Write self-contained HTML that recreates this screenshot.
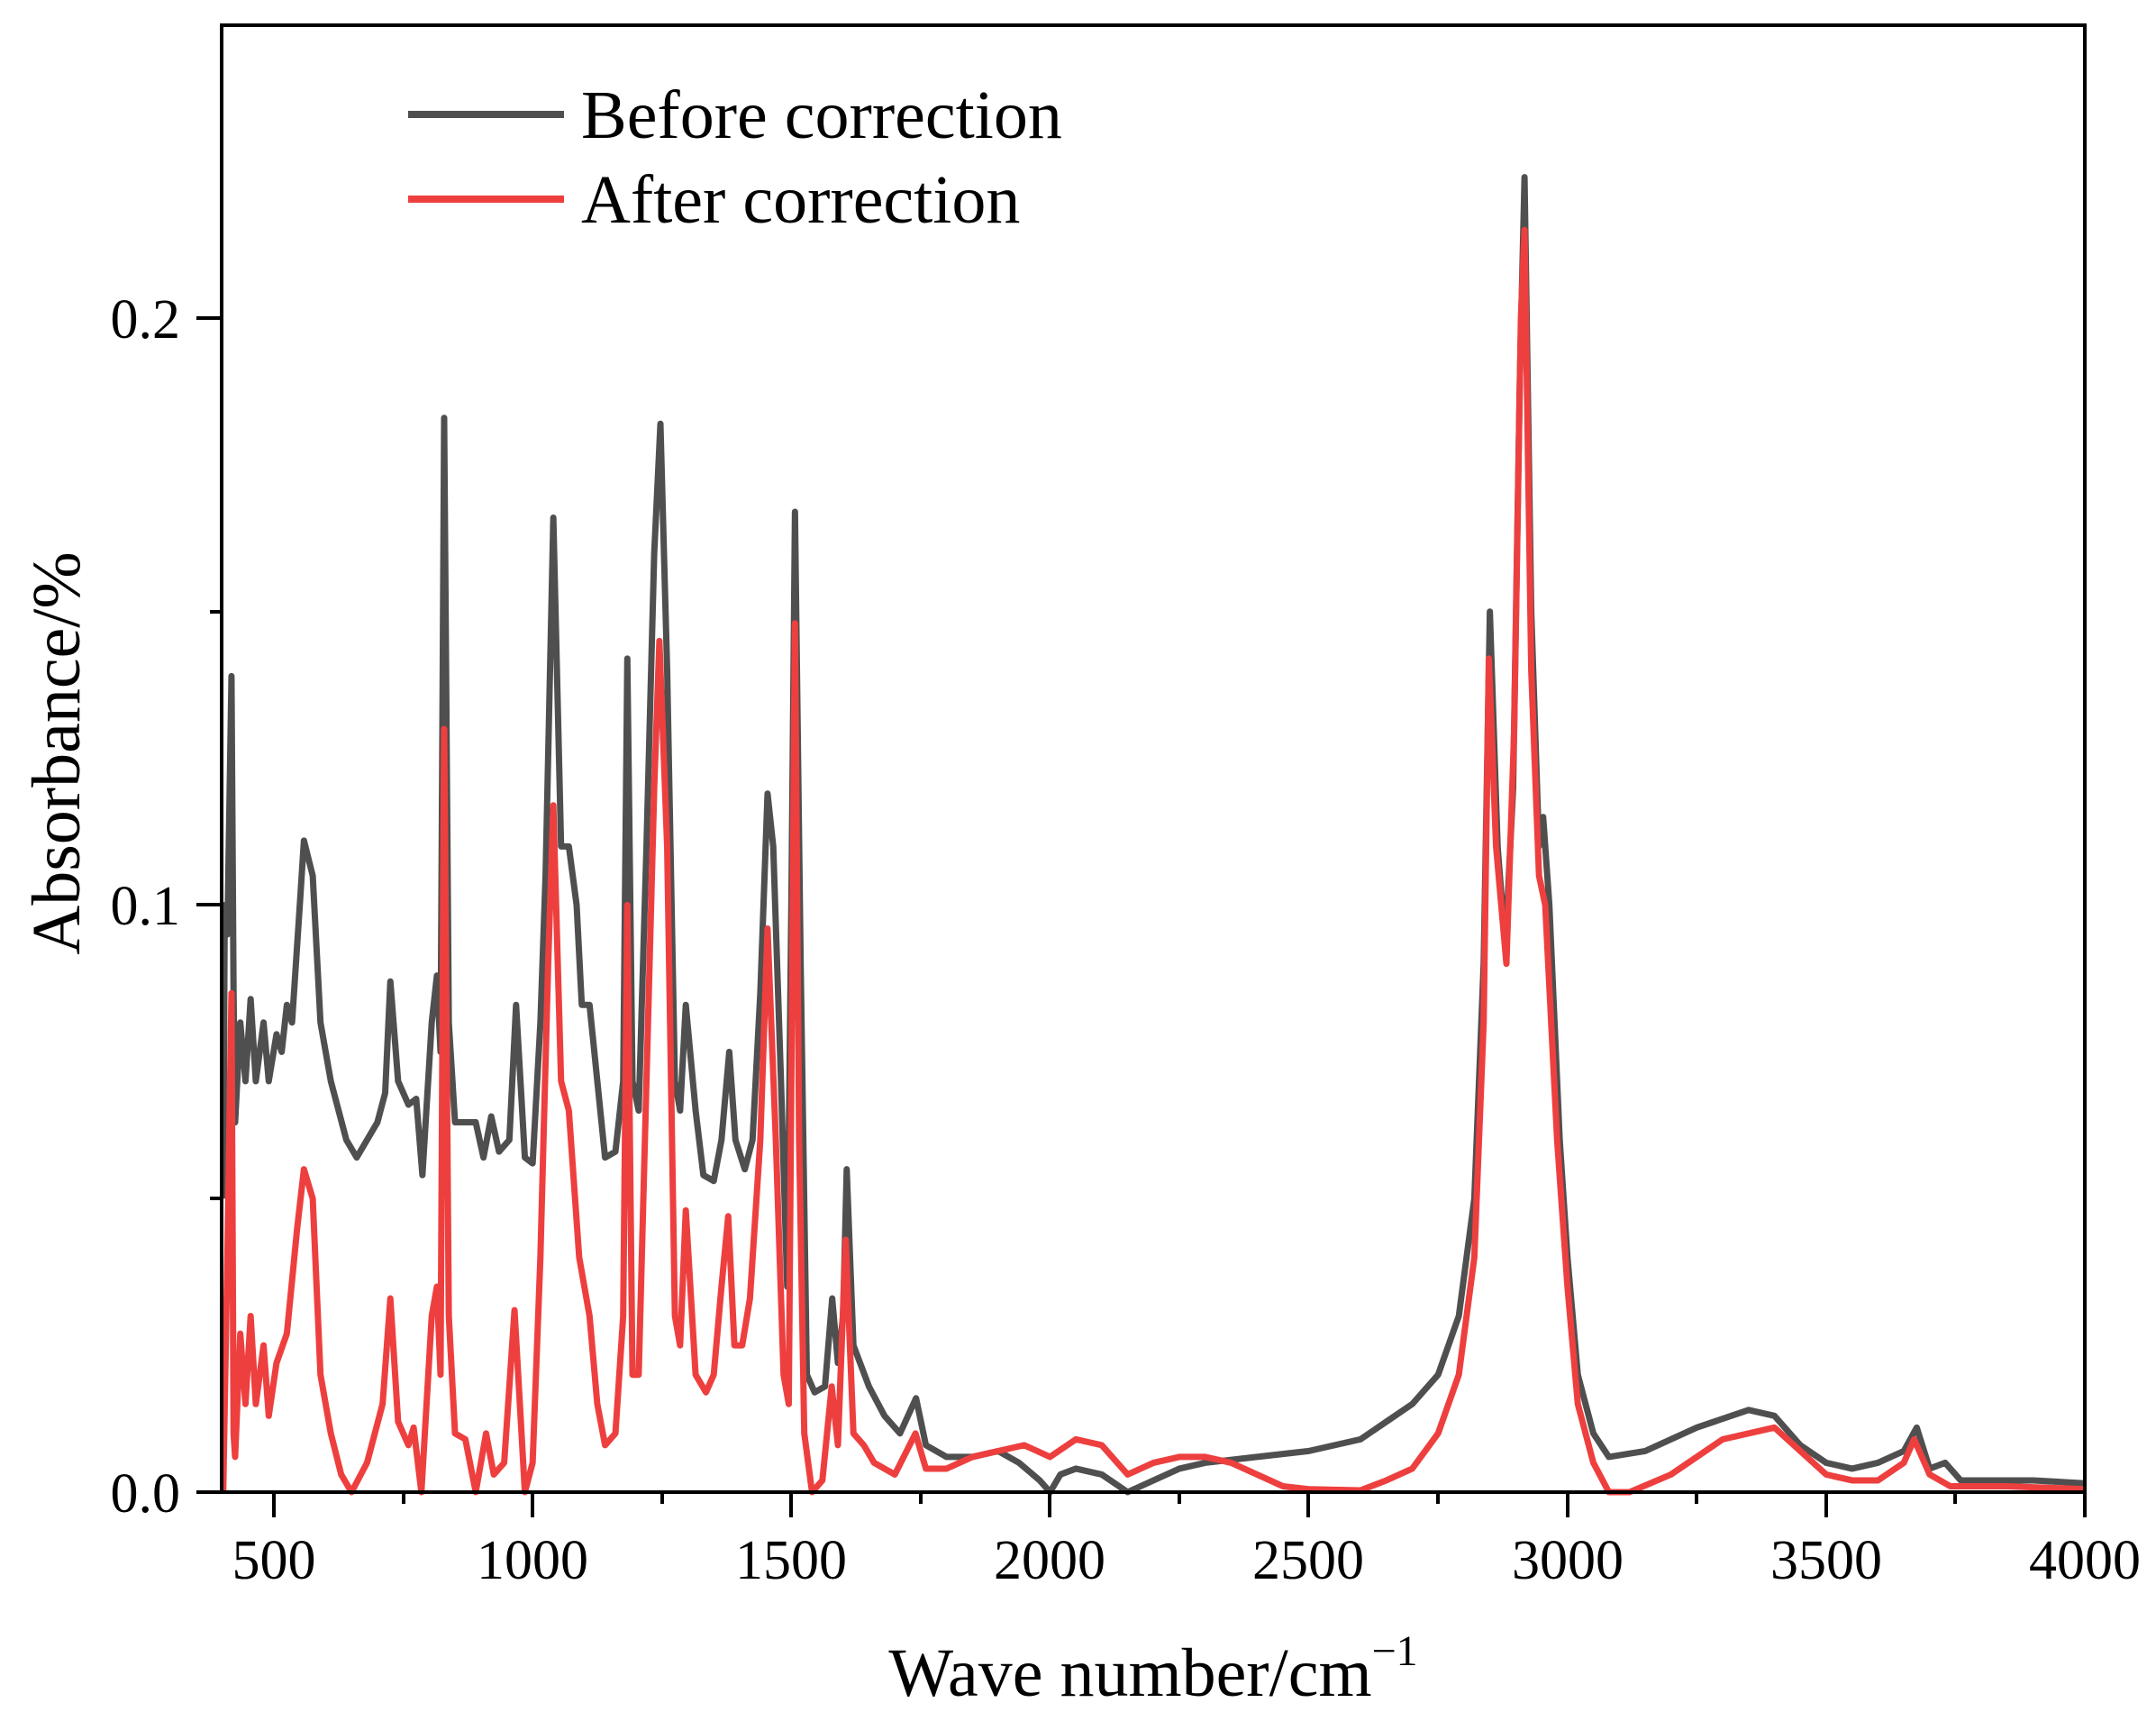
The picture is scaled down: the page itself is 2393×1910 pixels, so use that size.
<!DOCTYPE html>
<html><head><meta charset="utf-8"><style>
html,body{margin:0;padding:0;background:#fff}
svg{display:block}
text{font-family:"Liberation Serif",serif;fill:#000}
</style></head><body>
<svg width="2393" height="1910" viewBox="0 0 2393 1910" xmlns="http://www.w3.org/2000/svg">
<rect width="2393" height="1910" fill="#fff"/>
<line x1="246" y1="1656" x2="2314" y2="1656" stroke="#777" stroke-width="3" stroke-dasharray="8,6"/>
<g transform="translate(246.6,1656) scale(0.5743,-6515) translate(-400,0)" fill="none" stroke-linejoin="round">
<polyline vector-effect="non-scaling-stroke" stroke="#4f4f4f" stroke-width="7" points="
402,0.05 405,0.1 410,0.095 418,0.139 422,0.085 425,0.063 435,0.08 445,0.07 455,0.084 465,0.07 480,0.08 490,0.07 505,0.078 515,0.075 525,0.083 535,0.08 550,0.1 558,0.111 575,0.105 590,0.08 610,0.07 640,0.06 660,0.057 700,0.063 715,0.068 725,0.087 740,0.07 760,0.066 775,0.067 787,0.054 805,0.08 815,0.088 822,0.075 829,0.183 838,0.08 850,0.063 870,0.063 890,0.063 905,0.057 920,0.064 935,0.058 955,0.06 968,0.083 985,0.057 1000,0.056 1015,0.08 1025,0.105 1040,0.166 1055,0.11 1070,0.11 1085,0.1 1095,0.083 1110,0.083 1125,0.07 1140,0.057 1160,0.058 1175,0.07 1183,0.142 1193,0.07 1205,0.065 1220,0.11 1235,0.16 1247,0.182 1260,0.14 1275,0.07 1285,0.065 1296,0.083 1315,0.065 1330,0.054 1350,0.053 1365,0.06 1372,0.067 1380,0.075 1392,0.06 1410,0.055 1425,0.06 1440,0.085 1454,0.119 1465,0.11 1480,0.07 1492,0.035 1500,0.1 1507,0.167 1518,0.09 1530,0.02 1545,0.017 1565,0.018 1579,0.033 1590,0.022 1600,0.03 1607,0.055 1620,0.025 1650,0.018 1680,0.013 1710,0.01 1741,0.016 1760,0.008 1800,0.006 1850,0.006 1900,0.007 1940,0.005 1980,0.002 2000,0 2020,0.003 2050,0.004 2100,0.003 2150,0 2200,0.002 2250,0.004 2300,0.005 2400,0.006 2500,0.007 2600,0.009 2650,0.012 2700,0.015 2750,0.02 2790,0.03 2820,0.05 2838,0.09 2850,0.15 2865,0.11 2880,0.093 2895,0.12 2908,0.19 2917,0.224 2930,0.15 2945,0.11 2953,0.115 2965,0.1 2985,0.06 3000,0.04 3020,0.02 3050,0.01 3080,0.006 3150,0.007 3250,0.011 3350,0.014 3400,0.013 3450,0.008 3500,0.005 3550,0.004 3600,0.005 3650,0.007 3675,0.011 3700,0.004 3730,0.005 3760,0.002 3800,0.002 3900,0.002 4000,0.0015"/>
<polyline vector-effect="non-scaling-stroke" stroke="#ee3f3f" stroke-width="7" points="
402,0 410,0.04 418,0.085 422,0.01 425,0.006 435,0.027 445,0.015 455,0.03 465,0.015 480,0.025 490,0.013 505,0.022 525,0.027 545,0.045 558,0.055 575,0.05 590,0.02 610,0.01 630,0.003 650,0 680,0.005 710,0.015 725,0.033 740,0.012 760,0.008 770,0.011 785,0 805,0.03 815,0.035 822,0.02 829,0.13 838,0.03 850,0.01 870,0.009 890,0 910,0.01 925,0.003 945,0.005 965,0.031 985,0 1000,0.005 1015,0.04 1030,0.09 1040,0.117 1055,0.07 1070,0.065 1090,0.04 1110,0.03 1125,0.015 1140,0.008 1160,0.01 1175,0.03 1183,0.1 1193,0.02 1205,0.02 1220,0.07 1235,0.12 1245,0.145 1260,0.11 1275,0.03 1285,0.025 1296,0.048 1315,0.02 1335,0.017 1350,0.02 1365,0.035 1378,0.047 1390,0.025 1405,0.025 1420,0.033 1440,0.06 1454,0.096 1470,0.06 1485,0.02 1495,0.015 1507,0.148 1515,0.06 1525,0.01 1540,0 1560,0.002 1578,0.018 1590,0.008 1605,0.043 1620,0.01 1640,0.008 1660,0.005 1700,0.003 1740,0.01 1760,0.004 1800,0.004 1850,0.006 1900,0.007 1950,0.008 2000,0.006 2050,0.009 2100,0.008 2150,0.003 2200,0.005 2250,0.006 2300,0.006 2350,0.005 2400,0.003 2450,0.001 2500,0.0005 2600,0.0003 2650,0.002 2700,0.004 2750,0.01 2790,0.02 2820,0.04 2838,0.08 2848,0.142 2862,0.11 2882,0.09 2897,0.13 2910,0.2 2917,0.215 2930,0.14 2945,0.105 2957,0.1 2980,0.06 3000,0.035 3020,0.015 3050,0.005 3080,0 3120,0 3200,0.003 3300,0.009 3400,0.011 3450,0.007 3500,0.003 3550,0.002 3600,0.002 3650,0.005 3670,0.009 3700,0.003 3740,0.001 3850,0.001 4000,0.0005"/>
</g>
<rect x="246" y="28" width="2068" height="1628" fill="none" stroke="#000" stroke-width="4"/>
<g stroke="#000" stroke-width="4">
<line x1="304" y1="1656" x2="304" y2="1684"/><line x1="591" y1="1656" x2="591" y2="1684"/><line x1="878" y1="1656" x2="878" y2="1684"/><line x1="1165" y1="1656" x2="1165" y2="1684"/><line x1="1452" y1="1656" x2="1452" y2="1684"/><line x1="1740" y1="1656" x2="1740" y2="1684"/><line x1="2027" y1="1656" x2="2027" y2="1684"/><line x1="2314" y1="1656" x2="2314" y2="1684"/>
<line x1="448" y1="1656" x2="448" y2="1669"/><line x1="735" y1="1656" x2="735" y2="1669"/><line x1="1022" y1="1656" x2="1022" y2="1669"/><line x1="1309" y1="1656" x2="1309" y2="1669"/><line x1="1596" y1="1656" x2="1596" y2="1669"/><line x1="1883" y1="1656" x2="1883" y2="1669"/><line x1="2170" y1="1656" x2="2170" y2="1669"/>
<line x1="218" y1="1656" x2="246" y2="1656"/><line x1="218" y1="1004" x2="246" y2="1004"/><line x1="218" y1="353" x2="246" y2="353"/>
<line x1="233" y1="1330" x2="246" y2="1330"/><line x1="233" y1="679" x2="246" y2="679"/>
</g>
<g font-size="62" text-anchor="middle">
<text x="304" y="1752">500</text><text x="591" y="1752">1000</text><text x="878" y="1752">1500</text><text x="1165" y="1752">2000</text><text x="1452" y="1752">2500</text><text x="1740" y="1752">3000</text><text x="2027" y="1752">3500</text><text x="2314" y="1752">4000</text>
</g>
<g font-size="62" text-anchor="end">
<text x="200" y="1678">0.0</text><text x="200" y="1026">0.1</text><text x="200" y="375">0.2</text>
</g>
<text x="1280" y="1882" font-size="76" text-anchor="middle">Wave number/cm<tspan font-size="48" dy="-34">−1</tspan></text>
<text transform="translate(88,836) rotate(-90)" font-size="76" text-anchor="middle">Absorbance/%</text>
<line x1="453" y1="127" x2="626" y2="127" stroke="#4f4f4f" stroke-width="8"/>
<line x1="453" y1="221" x2="626" y2="221" stroke="#ee3f3f" stroke-width="8"/>
<text x="645" y="153" font-size="76">Before correction</text>
<text x="645" y="247" font-size="76">After correction</text>
</svg>
</body></html>
